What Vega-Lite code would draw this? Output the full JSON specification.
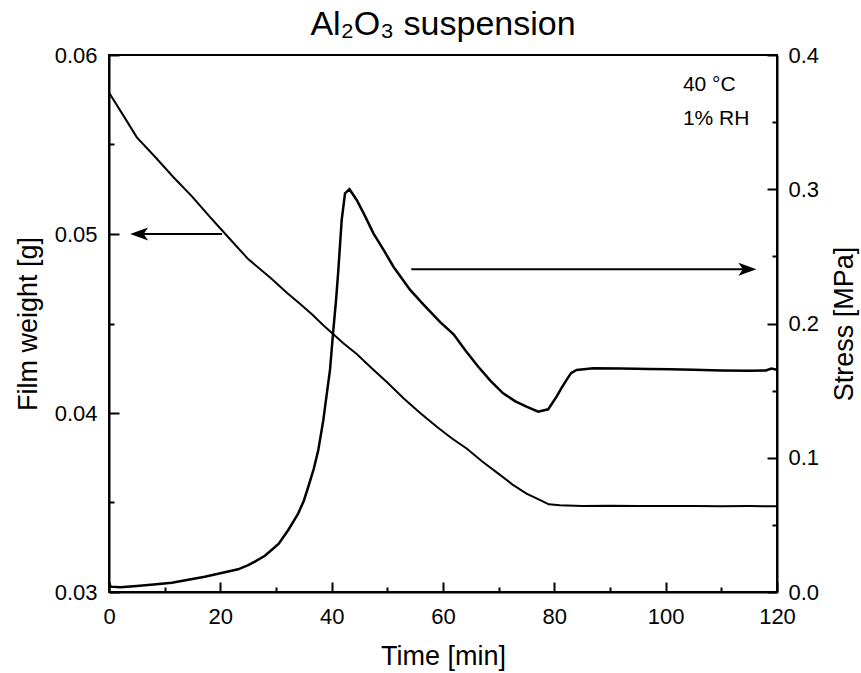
{
  "$schema": "https://vega.github.io/schema/vega-lite/v6.json",
  "width": 668,
  "height": 537,
  "autosize": {"type": "none"},
  "padding": {"left": 109, "top": 55, "right": 84, "bottom": 81},
  "background": "white",
  "config": {
    "font": "Liberation Sans",
    "view": {"stroke": "black", "strokeWidth": 2},
    "axis": {"grid": false, "domainColor": "black", "domainWidth": 2, "tickColor": "black", "tickWidth": 2, "labelColor": "black", "titleColor": "black", "labelFont": "Liberation Sans", "titleFont": "Liberation Sans", "labelFontSize": 22, "titleFontSize": 27, "titleFontWeight": "normal"},
    "title": {"font": "Liberation Sans", "fontSize": 34, "fontWeight": "normal", "color": "black"}
  },
  "title": {"text": "Al₂O₃ suspension", "anchor": "middle", "offset": 2},
  "datasets": {
    "weight": [
      {"t": 0, "w": 0.0579}, {"t": 1, "w": 0.0574}, {"t": 2.9, "w": 0.05646}, {"t": 5, "w": 0.0554},
      {"t": 8.3, "w": 0.0543}, {"t": 11.5, "w": 0.0532}, {"t": 14.9, "w": 0.0521}, {"t": 18, "w": 0.051},
      {"t": 21.1, "w": 0.04993}, {"t": 25, "w": 0.0486}, {"t": 29.2, "w": 0.0475}, {"t": 32, "w": 0.0467},
      {"t": 34.3, "w": 0.0461}, {"t": 36.5, "w": 0.0455}, {"t": 38.5, "w": 0.0449}, {"t": 40.3, "w": 0.0444},
      {"t": 42.1, "w": 0.0439}, {"t": 44.5, "w": 0.0433}, {"t": 47.2, "w": 0.0425}, {"t": 50, "w": 0.0417},
      {"t": 53, "w": 0.0408}, {"t": 55.9, "w": 0.04}, {"t": 59, "w": 0.0392}, {"t": 61.5, "w": 0.0386},
      {"t": 64.3, "w": 0.038}, {"t": 67, "w": 0.0373}, {"t": 70, "w": 0.0366}, {"t": 72.5, "w": 0.036},
      {"t": 75, "w": 0.0355}, {"t": 77, "w": 0.0352}, {"t": 79, "w": 0.0349}, {"t": 81, "w": 0.03485},
      {"t": 85, "w": 0.0348}, {"t": 90, "w": 0.03482}, {"t": 95, "w": 0.0348}, {"t": 100, "w": 0.03481},
      {"t": 105, "w": 0.0348}, {"t": 110, "w": 0.03479}, {"t": 115, "w": 0.0348}, {"t": 120, "w": 0.03479}
    ],
    "stress": [
      {"t": 0, "s": 0.007}, {"t": 0.3, "s": 0.004}, {"t": 2, "s": 0.0035}, {"t": 5, "s": 0.0045},
      {"t": 8, "s": 0.0055}, {"t": 11.3, "s": 0.0069}, {"t": 14, "s": 0.009}, {"t": 17.2, "s": 0.0114},
      {"t": 20, "s": 0.014}, {"t": 23.2, "s": 0.0169}, {"t": 25, "s": 0.02}, {"t": 26.2, "s": 0.0226},
      {"t": 28, "s": 0.027}, {"t": 29.2, "s": 0.0313}, {"t": 30.5, "s": 0.036}, {"t": 32.2, "s": 0.0462},
      {"t": 33.2, "s": 0.053}, {"t": 34, "s": 0.0586}, {"t": 35, "s": 0.068}, {"t": 35.8, "s": 0.0784},
      {"t": 36.8, "s": 0.092}, {"t": 37.6, "s": 0.1058}, {"t": 38.5, "s": 0.128}, {"t": 39.2, "s": 0.15},
      {"t": 39.7, "s": 0.1654}, {"t": 40.3, "s": 0.1952}, {"t": 40.8, "s": 0.218}, {"t": 41.2, "s": 0.2399},
      {"t": 41.8, "s": 0.2771}, {"t": 42.4, "s": 0.297}, {"t": 43.2, "s": 0.3}, {"t": 44.5, "s": 0.292},
      {"t": 46, "s": 0.28}, {"t": 47.5, "s": 0.2672}, {"t": 49.3, "s": 0.255}, {"t": 51.1, "s": 0.2423},
      {"t": 54.1, "s": 0.225}, {"t": 56.5, "s": 0.214}, {"t": 59.5, "s": 0.201}, {"t": 61.9, "s": 0.192},
      {"t": 64, "s": 0.18}, {"t": 66.3, "s": 0.168}, {"t": 68.5, "s": 0.1575}, {"t": 70.8, "s": 0.148},
      {"t": 73, "s": 0.142}, {"t": 75, "s": 0.138}, {"t": 77.1, "s": 0.1343}, {"t": 78.9, "s": 0.1361},
      {"t": 80.4, "s": 0.1455}, {"t": 81.3, "s": 0.152}, {"t": 82.2, "s": 0.158}, {"t": 83, "s": 0.163},
      {"t": 84, "s": 0.1654}, {"t": 87, "s": 0.1666}, {"t": 92, "s": 0.1665}, {"t": 97, "s": 0.1662},
      {"t": 100.8, "s": 0.1659}, {"t": 105, "s": 0.1655}, {"t": 110, "s": 0.165}, {"t": 115, "s": 0.1648},
      {"t": 118, "s": 0.165}, {"t": 119, "s": 0.1665}, {"t": 120, "s": 0.1655}
    ],
    "leftArrow": [{"t": 4.5, "t2": 20.3, "w": 0.05}],
    "leftHead": [{"t": 3.8, "w": 0.05}],
    "rightArrow": [{"t": 54.3, "t2": 115.5, "s": 0.2404}],
    "rightHead": [{"t": 116.3, "s": 0.2404}],
    "notes": [{"t": 103.1, "w": 0.0583, "label": "40 °C"}, {"t": 103.1, "w": 0.0564, "label": "1% RH"}]
  },
  "layer": [
    {
      "layer": [
        {
          "data": {"name": "weight"},
          "mark": {"type": "line", "color": "black", "strokeWidth": 2, "clip": true},
          "encoding": {
            "x": {"field": "t", "type": "quantitative", "scale": {"domain": [0, 120], "nice": false},
              "axis": {"title": "Time [min]", "values": [0, 10, 20, 30, 40, 50, 60, 70, 80, 90, 100, 110, 120],
                "labelExpr": "datum.value % 20 === 0 ? datum.label : ''",
                "tickSize": {"condition": {"test": "datum.value % 20 === 0", "value": -10}, "value": -5},
                "labelPadding": 24, "titlePadding": 16, "labelFlush": false}},
            "y": {"field": "w", "type": "quantitative", "scale": {"domain": [0.03, 0.06], "nice": false, "zero": false},
              "axis": {"title": "Film weight [g]", "orient": "left", "values": [0.03, 0.035, 0.04, 0.045, 0.05, 0.055, 0.06],
                "labelExpr": "abs(datum.value*100 - round(datum.value*100)) < 1e-6 ? format(datum.value, '.2f') : ''",
                "tickSize": {"condition": {"test": "abs(datum.value*100 - round(datum.value*100)) < 1e-6", "value": -10}, "value": -5},
                "labelPadding": 22, "titlePadding": 12, "labelFlush": false}}
          }
        },
        {
          "data": {"name": "leftArrow"},
          "mark": {"type": "rule", "color": "black", "strokeWidth": 2},
          "encoding": {"x": {"field": "t", "type": "quantitative"}, "x2": {"field": "t2"}, "y": {"field": "w", "type": "quantitative"}}
        },
        {
          "data": {"name": "leftHead"},
          "mark": {"type": "point", "shape": "M0,0L1.8,-0.65L1.35,0L1.8,0.65Z", "size": 400, "filled": true, "color": "black", "opacity": 1},
          "encoding": {"x": {"field": "t", "type": "quantitative"}, "y": {"field": "w", "type": "quantitative"}}
        },
        {
          "data": {"name": "notes"},
          "mark": {"type": "text", "align": "left", "baseline": "middle", "fontSize": 21, "color": "black", "font": "Liberation Sans"},
          "encoding": {"x": {"field": "t", "type": "quantitative"}, "y": {"field": "w", "type": "quantitative"}, "text": {"field": "label"}}
        }
      ]
    },
    {
      "layer": [
        {
          "data": {"name": "stress"},
          "mark": {"type": "line", "color": "black", "strokeWidth": 2.5, "clip": true},
          "encoding": {
            "x": {"field": "t", "type": "quantitative"},
            "y": {"field": "s", "type": "quantitative", "scale": {"domain": [0, 0.4], "nice": false},
              "axis": {"title": "Stress [MPa]", "orient": "right", "titleAngle": 270, "titleBaseline": "top", "values": [0, 0.05, 0.1, 0.15, 0.2, 0.25, 0.3, 0.35, 0.4],
                "labelExpr": "abs(datum.value*10 - round(datum.value*10)) < 1e-6 ? format(datum.value, '.1f') : ''",
                "tickSize": {"condition": {"test": "abs(datum.value*10 - round(datum.value*10)) < 1e-6", "value": -10}, "value": -5},
                "labelPadding": 21, "titlePadding": 13, "labelFlush": false}}
          }
        },
        {
          "data": {"name": "rightArrow"},
          "mark": {"type": "rule", "color": "black", "strokeWidth": 2},
          "encoding": {"x": {"field": "t", "type": "quantitative"}, "x2": {"field": "t2"}, "y": {"field": "s", "type": "quantitative"}}
        },
        {
          "data": {"name": "rightHead"},
          "mark": {"type": "point", "shape": "M0,0L-1.8,-0.65L-1.35,0L-1.8,0.65Z", "size": 400, "filled": true, "color": "black", "opacity": 1},
          "encoding": {"x": {"field": "t", "type": "quantitative"}, "y": {"field": "s", "type": "quantitative"}}
        }
      ]
    }
  ],
  "resolve": {"scale": {"y": "independent"}, "axis": {"y": "independent"}}
}
